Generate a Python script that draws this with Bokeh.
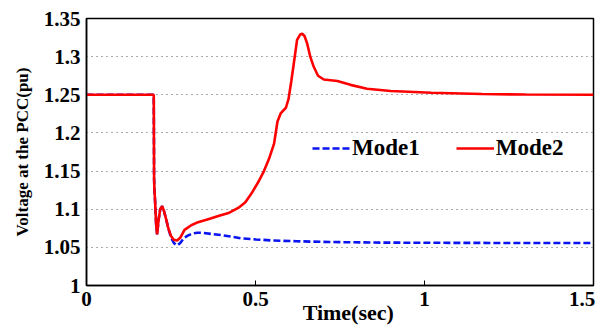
from bokeh.plotting import figure
from bokeh.models import FixedTicker, Legend, LegendItem, Range1d
from bokeh.embed import file_html
from bokeh.resources import INLINE

# Mode1 (blue dashed)
t_mode1 = [0, 0.199, 0.2, 0.201, 0.203, 0.206, 0.209, 0.213, 0.218, 0.224, 0.229, 0.235, 0.242,
           0.25, 0.258, 0.265, 0.27, 0.278, 0.288, 0.298, 0.308, 0.318, 0.328, 0.345, 0.37, 0.4,
           0.456, 0.5, 0.55, 0.62, 0.72, 0.85, 1.0, 1.2, 1.5]
v_mode1 = [1.25, 1.25, 1.14, 1.125, 1.11, 1.08, 1.067, 1.085, 1.100, 1.104, 1.098, 1.088, 1.075,
           1.063, 1.056, 1.053, 1.053, 1.056, 1.062, 1.065, 1.067, 1.0685, 1.0692, 1.069, 1.0675, 1.066,
           1.062, 1.0605, 1.059, 1.058, 1.057, 1.0563, 1.056, 1.0558, 1.0557]

# Mode2 (red solid)
t_mode2 = [0, 0.199, 0.2, 0.201, 0.203, 0.206, 0.209, 0.213, 0.218, 0.224, 0.229, 0.235, 0.242,
           0.25, 0.258, 0.268, 0.278, 0.29, 0.31, 0.33, 0.36, 0.39, 0.42, 0.45, 0.47, 0.49, 0.51,
           0.525, 0.54, 0.555, 0.565, 0.575, 0.59, 0.598, 0.606, 0.613, 0.623, 0.632, 0.638, 0.645,
           0.653, 0.662, 0.672, 0.685, 0.702, 0.742, 0.781, 0.83, 0.9, 1.02, 1.17, 1.3, 1.5]
v_mode2 = [1.25, 1.25, 1.14, 1.125, 1.11, 1.08, 1.067, 1.085, 1.100, 1.104, 1.098, 1.088, 1.075,
           1.065, 1.060, 1.059, 1.063, 1.073, 1.079, 1.083, 1.087, 1.091, 1.095, 1.102, 1.109, 1.122,
           1.137, 1.150, 1.166, 1.186, 1.215, 1.226, 1.233, 1.245, 1.268, 1.29, 1.322, 1.329, 1.330,
           1.327, 1.317, 1.300, 1.287, 1.275, 1.270, 1.268, 1.263, 1.258, 1.255, 1.2526, 1.251,
           1.2503, 1.250]

x_ticks = [0, 0.5, 1, 1.5]
x_tick_labels = ["0", "0.5", "1", "1.5\u00a0"]
y_ticks = [1, 1.05, 1.1, 1.15, 1.2, 1.25, 1.3, 1.35]
y_tick_labels = ["1", "1.05", "1.1", "1.15", "1.2", "1.25", "1.3", "1.35"]

FONT = "Times"

p = figure(width=600, height=327, output_backend="svg", toolbar_location=None,
           x_range=Range1d(0, 1.5), y_range=Range1d(1, 1.35),
           min_border_left=86, min_border_right=7, min_border_top=18, min_border_bottom=37)
p.background_fill_color = "white"
p.border_fill_color = "white"
p.outline_line_color = "black"
p.outline_line_width = 1.5

r1 = p.line(t_mode1, v_mode1, line_color="#0a14f0", line_width=2.6, line_dash="7 3")
r2 = p.line(t_mode2, v_mode2, line_color="#ff0000", line_width=2.6)

p.xgrid.visible = False
p.ygrid.ticker = FixedTicker(ticks=y_ticks)
p.ygrid.grid_line_color = "#555555"
p.ygrid.grid_line_dash = "1 4"
p.ygrid.grid_line_width = 1.2

xa = p.xaxis[0]
xa.ticker = FixedTicker(ticks=x_ticks)
xa.major_label_overrides = {k: v for k, v in zip(x_ticks, x_tick_labels)}
xa.major_tick_in = 5
xa.major_tick_out = 0
xa.minor_tick_line_color = None
xa.axis_line_color = "black"
xa.axis_line_width = 1.5
xa.major_label_text_font = FONT
xa.major_label_text_font_style = "bold"
xa.major_label_text_font_size = "21px"
xa.major_label_text_color = "black"
xa.major_label_standoff = 1
xa.axis_label = "\u00a0\u00a0\u00a0Time(sec)"
xa.axis_label_text_font = FONT
xa.axis_label_text_font_style = "bold"
xa.axis_label_text_font_size = "22px"
xa.axis_label_text_color = "black"
xa.axis_label_standoff = -14

ya = p.yaxis[0]
ya.ticker = FixedTicker(ticks=y_ticks)
ya.major_label_overrides = {k: v for k, v in zip(y_ticks, y_tick_labels)}
ya.major_tick_in = 0
ya.major_tick_out = 0
ya.minor_tick_line_color = None
ya.axis_line_color = "black"
ya.axis_line_width = 1.5
ya.major_label_text_font = FONT
ya.major_label_text_font_style = "bold"
ya.major_label_text_font_size = "21px"
ya.major_label_text_color = "black"
ya.major_label_standoff = 6
ya.axis_label = "Voltage at the PCC(pu)"
ya.axis_label_text_font = FONT
ya.axis_label_text_font_style = "bold"
ya.axis_label_text_font_size = "17px"
ya.axis_label_text_color = "black"
ya.axis_label_standoff = 9

legend = Legend(items=[LegendItem(label="Mode1", renderers=[r1]),
                       LegendItem(label="Mode2", renderers=[r2])],
                orientation="horizontal", location=(226, 124),
                label_text_font=FONT, label_text_font_style="bold", label_text_font_size="23px",
                label_text_color="black", glyph_width=38, label_standoff=2, spacing=36,
                padding=0, margin=0, border_line_color=None, background_fill_alpha=0)
p.add_layout(legend, "center")

open("out.html", "w").write(file_html(p, INLINE))
